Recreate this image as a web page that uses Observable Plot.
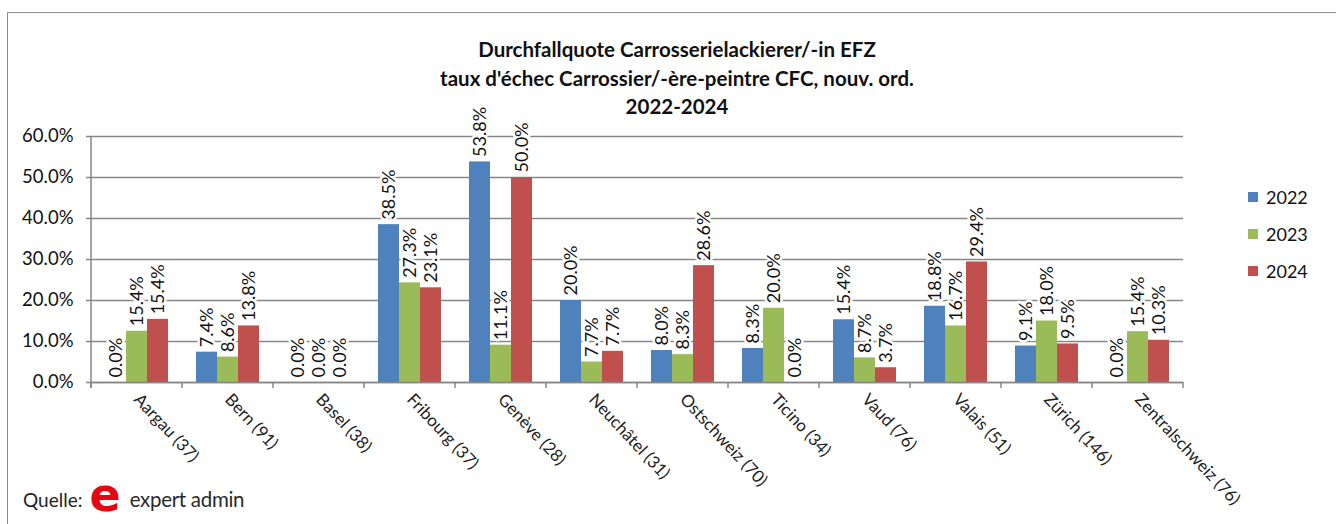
<!DOCTYPE html>
<html><head><meta charset="utf-8">
<script src="https://cdn.jsdelivr.net/npm/d3@7"></script>
<script src="https://cdn.jsdelivr.net/npm/@observablehq/plot@0.6"></script>
<style>
body{margin:0;background:#fff;font-family:Lato,"Open Sans",sans-serif;}
#wrap{position:relative;width:1336px;height:524px;overflow:hidden;background:#fff;}
#frame{position:absolute;left:7px;top:12px;width:1400px;height:600px;border:1.5px solid #8c8c8c;box-sizing:border-box;}
#title{position:absolute;left:0;width:1354px;top:35px;text-align:center;font-weight:bold;font-size:20.5px;line-height:28.5px;color:#111;z-index:2;}
#chart{position:absolute;left:0;top:90px;z-index:1;}
#legend{position:absolute;left:1248px;top:178px;font-size:18px;color:#111;}
.item{display:flex;align-items:center;height:37px;}
.sw{width:10px;height:10px;margin-right:8px;}
#source{position:absolute;left:23px;top:484px;font-size:19px;color:#222;display:flex;align-items:center;white-space:nowrap;}
#logo{color:#e30613;font-weight:900;font-size:46px;font-family:"DejaVu Sans",sans-serif;line-height:30px;margin:0 9px 0 7px;position:relative;top:-4px;}
#brand{letter-spacing:-0.3px;color:#2a2a2a;font-size:20.5px;}
</style>
</head><body>
<div id="wrap">
  <div id="frame"></div>
  <div id="title">Durchfallquote Carrosserielackierer/-in EFZ<br>taux d'échec Carrossier/-ère-peintre CFC, nouv. ord.<br>2022-2024</div>
  <div id="chart"></div>
  <div id="legend"></div>
  <div id="source"><span>Quelle:</span><span id="logo">e</span><span id="brand">expert admin</span></div>
</div>
<script>
const regions = ["Aargau (37)","Bern (91)","Basel (38)","Fribourg (37)","Genève (28)","Neuchâtel (31)","Ostschweiz (70)","Ticino (34)","Vaud (76)","Valais (51)","Zürich (146)","Zentralschweiz (76)"];
const years = ["2022","2023","2024"];
// bar heights as drawn (percent)
const bars2022 = [0, 7.4, 0, 38.5, 53.8, 20.0, 7.8, 8.3, 15.3, 18.6, 8.9, 0];
const bars2023 = [12.5, 6.2, 0, 24.3, 9.1, 5.0, 6.8, 18.1, 6.0, 13.8, 15.0, 12.4];
const bars2024 = [15.4, 13.8, 0, 23.1, 50.0, 7.6, 28.5, 0, 3.6, 29.4, 9.4, 10.3];
// data labels as printed (percent)
const labels2022 = [0.0, 7.4, 0.0, 38.5, 53.8, 20.0, 8.0, 8.3, 15.4, 18.8, 9.1, 0.0];
const labels2023 = [15.4, 8.6, 0.0, 27.3, 11.1, 7.7, 8.3, 20.0, 8.7, 16.7, 18.0, 15.4];
const labels2024 = [15.4, 13.8, 0.0, 23.1, 50.0, 7.7, 28.6, 0.0, 3.7, 29.4, 9.5, 10.3];
const yTicks = [0, 10, 20, 30, 40, 50, 60];
const colors = ["#4F81BD", "#9BBB59", "#C0504D"];

const barSets = [bars2022, bars2023, bars2024];
const labelSets = [labels2022, labels2023, labels2024];
const data = regions.flatMap((r, i) => years.map((yr, j) => ({
  region: r, year: yr, value: barSets[j][i], label: labelSets[j][i]
})));

const axisColor = "#868686";
const plot = Plot.plot({
  width: 1336, height: 434,
  marginTop: 46, marginLeft: 91, marginRight: 153, marginBottom: 142,
  style: {fontFamily: "Lato, 'Open Sans', sans-serif", fontSize: "17px", color: "#222", background: "transparent", overflow: "visible"},
  fx: {domain: regions, padding: 0, label: null, axis: "bottom", tickRotate: 47, tickSize: 0, tickPadding: 14, fontSize: 18},
  x: {domain: years, paddingInner: 0, paddingOuter: 0.57, axis: null},
  y: {domain: [0, 60], label: null},
  color: {domain: years, range: colors},
  marks: [
    Plot.gridY(yTicks, {stroke: axisColor, strokeOpacity: 1, strokeWidth: 1.5}),
    Plot.axisY(yTicks, {tickSize: 5, tickPadding: 13, tickFormat: d => d.toFixed(1) + "%", label: null, stroke: axisColor, strokeWidth: 1.5, fontSize: 18.5, fill: "#111"}),
    Plot.barY(data, {fx: "region", x: "year", y: "value", fill: "year"}),
    Plot.ruleY([0], {stroke: axisColor, strokeWidth: 1.5}),
    Plot.text(data, {fx: "region", x: "year", y: "value", text: d => d.label.toFixed(1) + "%",
      rotate: -90, textAnchor: "start", lineAnchor: "middle", dy: -5,
      fill: "#111", stroke: "white", strokeWidth: 5, paintOrder: "stroke", fontSize: 18})
  ]
});
document.getElementById("chart").appendChild(plot);

// axis lines and category boundary ticks from the library's scales
const fx = plot.scale("fx"), ys = plot.scale("y");
const svg = d3.select(plot);
const y0 = ys.apply(0), yTop = ys.apply(60);
const x0 = fx.apply(regions[0]);
const g = svg.append("g").attr("stroke", axisColor).attr("stroke-width", 1.5);
g.append("line").attr("x1", x0).attr("x2", x0).attr("y1", yTop).attr("y2", y0 + 6);
const bounds = regions.map(r => fx.apply(r)).concat([fx.apply(regions[regions.length - 1]) + fx.bandwidth]);
bounds.forEach(b => g.append("line").attr("x1", b).attr("x2", b).attr("y1", y0).attr("y2", y0 + 6));

// legend
const legend = d3.select("#legend");
const cs = plot.scale("color");
years.forEach(yr => {
  const it = legend.append("div").attr("class", "item");
  it.append("div").attr("class", "sw").style("background", cs.apply(yr));
  it.append("span").text(yr);
});
</script>
</body></html>
